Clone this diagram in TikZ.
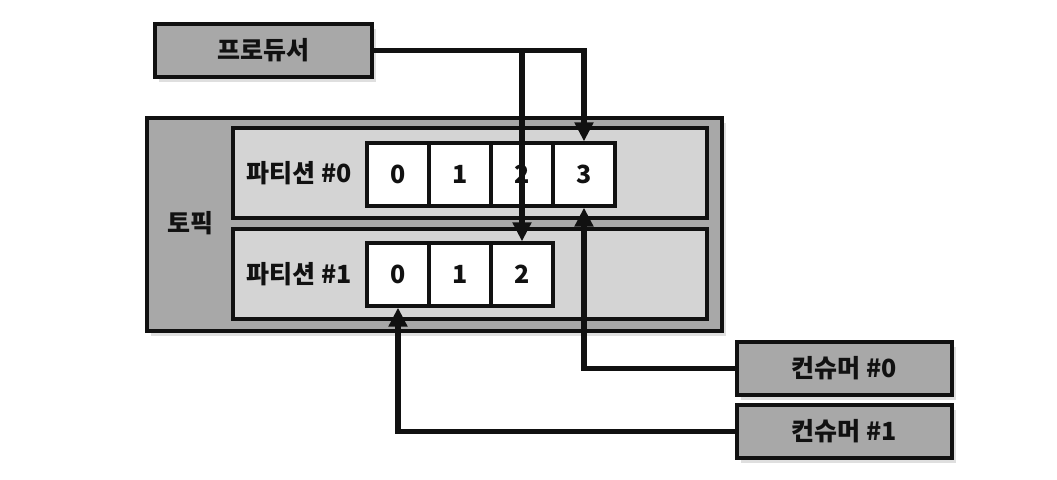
\documentclass[tikz,border=0pt]{standalone}
\usepackage{fontspec}
\newfontfamily\kr{Noto Sans CJK KR}
\usetikzlibrary{arrows.meta,shadows}
\definecolor{ink}{HTML}{111111}
\definecolor{darkbox}{HTML}{A8A8A8}
\definecolor{lightbox}{HTML}{D4D4D4}
\tikzset{
  box/.style={draw=ink, line width=1.6pt, fill=darkbox, inner sep=0pt,
    drop shadow={shadow xshift=2pt, shadow yshift=-2.5pt, opacity=0.25}},
  part/.style={draw=ink, line width=1.6pt, fill=lightbox, inner sep=0pt,
    minimum width=237pt, minimum height=45pt},
  cell/.style={draw=ink, line width=1.6pt, fill=white, inner sep=0pt,
    minimum width=31pt, minimum height=31.5pt, font=\kr\bfseries\fontsize{12.5}{14}\selectfont, text=ink},
  lab/.style={text=ink, font=\kr\bfseries\fontsize{12.5}{15}\selectfont},
  flow/.style={draw=ink, line width=2.6pt, -{Triangle[width=9pt,length=9.5pt]}},
}
\begin{document}
\begin{tikzpicture}[x=0.5pt,y=-0.5pt]
  \useasboundingbox (0,0) rectangle (1057,479);
  % boxes
  \node[box, minimum width=108.5pt, minimum height=26.5pt] (producer) at (263.5,50.5) {};
  \node[lab] at (producer) {프로듀서};
  \node[box, minimum width=287.5pt, minimum height=106.5pt] (topic) at (434.5,224.5) {};
  \node[lab] at (190,223) {토픽};
  \node[part] (part0) at (470,173) {};
  \node[part] (part1) at (470,274) {};
  \node[lab] at (299,173) {파티션 \#0};
  \node[lab] at (299,274) {파티션 \#1};
  % cells
  \foreach \i in {0,...,3}
    \node[cell] (p0c\i) at (398+62*\i,174.5) {\i};
  \foreach \i in {0,...,2}
    \node[cell] (p1c\i) at (398+62*\i,274.5) {\i};
  \node[box, minimum width=107.5pt, minimum height=26.5pt] (cons0) at (844.5,368.5) {};
  \node[lab] at (cons0) {컨슈머 \#0};
  \node[box, minimum width=107.5pt, minimum height=26.5pt] (cons1) at (844.5,431.5) {};
  \node[lab] at (cons1) {컨슈머 \#1};
  % arrows
  \coordinate (split) at (producer.east -| p1c2.north);
  \draw[flow] (producer.east) -| (p0c3.north);
  \draw[flow] (split) -- (p1c2.north);
  \draw[flow] (cons0.west) -| (p0c3.south);
  \draw[flow] (cons1.west) -| (p1c0.south);
\end{tikzpicture}
\end{document}
